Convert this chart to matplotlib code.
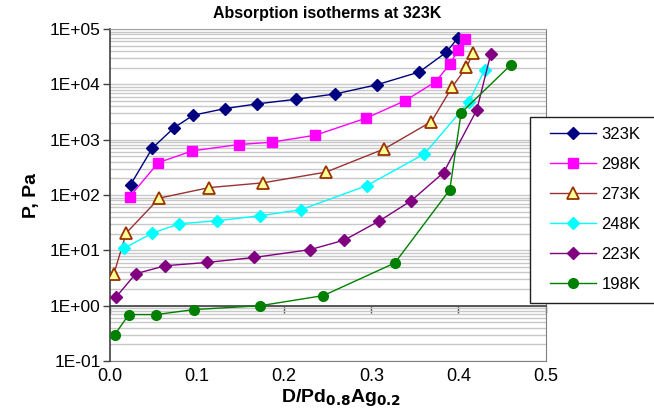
import matplotlib
matplotlib.use("Agg")
import matplotlib.pyplot as plt
from matplotlib.patches import Rectangle
from matplotlib.ticker import LogLocator, FixedLocator, FuncFormatter, NullFormatter
import numpy as np

plt.rcParams["font.family"] = ["Liberation Sans", "DejaVu Sans"]

# ── Data ──
x_323 = [0.024, 0.049, 0.074, 0.096, 0.132, 0.169, 0.214, 0.259, 0.307, 0.355, 0.386, 0.399]
p_323 = [153, 703, 1650, 2770, 3640, 4430, 5380, 6710, 9880, 16700, 37900, 68000]

x_298 = [0.023, 0.056, 0.095, 0.148, 0.186, 0.236, 0.294, 0.339, 0.374, 0.390, 0.400, 0.408]
p_298 = [93, 386, 628, 816, 901, 1206, 2445, 5080, 11200, 23100, 42500, 66800]

x_273 = [0.005, 0.019, 0.057, 0.114, 0.176, 0.248, 0.315, 0.369, 0.393, 0.409, 0.417]
p_273 = [3.78, 20.5, 87.9, 136, 166, 259, 682, 2120, 9090, 20200, 37100]

x_248 = [0.017, 0.049, 0.080, 0.123, 0.172, 0.219, 0.295, 0.361, 0.412, 0.430]
p_248 = [11.0, 20.5, 30.2, 34.2, 42.1, 54.0, 148, 554, 4870, 18200]

x_223 = [0.007, 0.030, 0.064, 0.112, 0.166, 0.230, 0.269, 0.309, 0.346, 0.383, 0.421, 0.437]
p_223 = [1.41, 3.78, 5.27, 6.05, 7.44, 10.3, 15.3, 33.8, 79.2, 255, 3450, 35400]

x_198 = [0.006, 0.022, 0.053, 0.097, 0.173, 0.245, 0.327, 0.390, 0.403, 0.460]
p_198 = [0.30, 0.69, 0.69, 0.85, 1.0, 1.52, 5.9, 124, 3050, 22400]

labels = ["323K", "298K", "273K", "248K", "223K", "198K"]
x_ticks = [0.0, 0.1, 0.2, 0.3, 0.4, 0.5]

series = [
    (x_323, p_323, dict(color="#000080", marker="D", ms=6.5, mfc="#000080", mec="#000080")),
    (x_298, p_298, dict(color="#FF00FF", marker="s", ms=6.5, mfc="#FF00FF", mec="#FF00FF")),
    (x_273, p_273, dict(color="#993333", marker="^", ms=8, mfc="#FFFF99", mec="#993300", mew=1.3)),
    (x_248, p_248, dict(color="#00FFFF", marker="D", ms=6.5, mfc="#00FFFF", mec="#00FFFF")),
    (x_223, p_223, dict(color="#800080", marker="D", ms=6.5, mfc="#800080", mec="#800080")),
    (x_198, p_198, dict(color="#008000", marker="o", ms=7, mfc="#008000", mec="#008000")),
]

fig = plt.figure(figsize=(6.54, 4.15), dpi=100)
fig.patch.set_facecolor("white")
ax = fig.add_axes([109.6 / 654, 54 / 415, 436.1 / 654, 332 / 415])

ax.set_yscale("log")
ax.set_ylim(0.1, 1e5)
ax.set_xlim(0.0, 0.5)

# ── Gridlines at every decade subdivision ──
ax.yaxis.set_major_locator(LogLocator(base=10, numticks=10))
ax.yaxis.set_minor_locator(LogLocator(base=10, subs=np.arange(2, 10), numticks=20))
ax.yaxis.set_minor_formatter(NullFormatter())
ax.yaxis.set_major_formatter(FuncFormatter(lambda v, p: f"1E{int(round(np.log10(v))):+03d}"))
ax.grid(True, which="both", axis="y", color="#c8c8c8", linewidth=1.0)
ax.set_axisbelow(True)
ax.tick_params(axis="y", which="minor", length=0)
ax.tick_params(axis="y", which="major", length=5, direction="out", labelsize=12.5,
               color="#404040", width=1, pad=1.5)

# ── Series ──
handles = []
for (xs, ps, st), lab in zip(series, labels):
    h, = ax.plot(xs, ps, lw=1.0, label=lab, zorder=3, **st)
    handles.append(h)

# ── X axis drawn at P = 1, labels at the bottom ──
ax.spines["bottom"].set_position(("data", 1))
ax.spines["bottom"].set_color("#404040")
ax.spines["bottom"].set_linewidth(1.2)
ax.spines["left"].set_color("#404040")
ax.spines["left"].set_linewidth(1.2)
ax.spines["top"].set_color("#a0a0a0")
ax.spines["right"].set_color("#808080")
ax.xaxis.set_major_locator(FixedLocator(x_ticks))
ax.xaxis.set_major_formatter(NullFormatter())
ax.tick_params(axis="x", which="both", length=5, direction="out", labelbottom=False,
               color="#404040", width=1)

sec = ax.secondary_xaxis(location=0)
sec.xaxis.set_major_locator(FixedLocator(x_ticks))
sec.xaxis.set_major_formatter(FuncFormatter(lambda v, p: f"{v:.1f}"))
sec.tick_params(length=0, labelsize=13, pad=5)
sec.spines["bottom"].set_color("#808080")

ax.set_title("Absorption isotherms at 323K", fontsize=11.5, fontweight="bold", pad=8)
ax.set_ylabel("P, Pa", fontsize=14, fontweight="bold", labelpad=7)
fig.text(341 / 654, 1 - 397 / 415, r"D/Pd$_{\mathbf{0.8}}$Ag$_{\mathbf{0.2}}$",
         fontsize=14, fontweight="bold", ha="center", va="center")

# ── Legend box ──
fig.add_artist(Rectangle((530 / 654, 1 - 303 / 415), 130 / 654, 186 / 415,
                         transform=fig.transFigure, facecolor="white",
                         edgecolor="#202020", linewidth=1.0, zorder=5))
leg = fig.legend(handles=handles, labels=labels, loc="upper left",
                 bbox_to_anchor=(538 / 654, 1 - 115 / 415), frameon=False,
                 fontsize=12, handlelength=2.8, handletextpad=0.3,
                 labelspacing=0.9, borderpad=0.2)
leg.set_zorder(6)

fig.savefig("out.png", dpi=100, facecolor="white")
